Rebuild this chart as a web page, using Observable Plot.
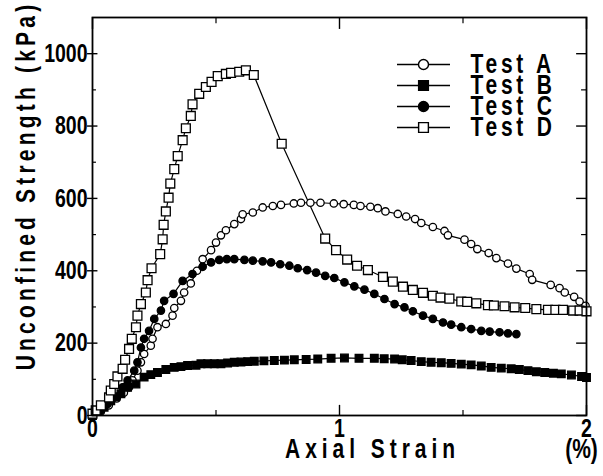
<!DOCTYPE html>
<html>
<head>
<meta charset="utf-8">
<script src="https://cdn.jsdelivr.net/npm/d3@7"></script>
<script src="https://cdn.jsdelivr.net/npm/@observablehq/plot@0.6"></script>
<style>
  body { margin: 0; background: #fff; }
  #wrap { position: relative; width: 603px; height: 476px; overflow: hidden; background: #fff; }
  #legend { position: absolute; left: 390px; top: 35px; }
</style>
</head>
<body>
<div id="wrap"><div id="chart"></div><div id="legend"></div></div>
<script>
// ---------- data ----------
const tests = ["Test A", "Test B", "Test C", "Test D"];
const xTitle = "Axial Strain";
const xUnit = "(%)";
const yTitle = "Unconfined Strength (kPa)";

const strainTicks = [0, 1, 2];
const strainMinor = [0.5, 1.5];
const strengthTicks = [0, 200, 400, 600, 800, 1000];
const strengthMinor = [100, 300, 500, 700, 900];

const strainA = [0,0.034,0.066,0.098,0.127,0.148,0.162,0.182,0.196,0.209,0.236,0.243,0.263,0.297,0.324,0.331,0.358,0.371,0.398,0.423,0.446,0.480,0.500,0.520,0.540,0.574,0.601,0.608,0.649,0.689,0.730,0.763,0.815,0.844,0.882,0.923,0.977,1.017,1.058,1.085,1.125,1.155,1.186,1.236,1.270,1.306,1.331,1.378,1.425,1.439,1.506,1.533,1.558,1.604,1.635,1.682,1.716,1.770,1.780,1.855,1.891,1.912,1.950,1.972,1.996];
const strengthA = [0,11,28,47,63,78,97,124,147,170,193,212,244,253,276,297,317,340,365,400,432,457,478,498,512,529,543,556,561,575,579,582,586,588,588,588,586,584,582,579,577,573,564,557,550,543,532,521,510,498,486,474,460,449,435,420,406,391,375,361,352,340,328,315,303];

const strainB = [0,0.021,0.047,0.074,0.094,0.115,0.142,0.176,0.209,0.236,0.263,0.297,0.331,0.358,0.385,0.419,0.439,0.466,0.493,0.520,0.547,0.574,0.601,0.628,0.655,0.694,0.736,0.777,0.817,0.865,0.912,0.966,1.020,1.079,1.141,1.181,1.223,1.254,1.290,1.331,1.371,1.412,1.452,1.493,1.533,1.574,1.614,1.655,1.695,1.728,1.763,1.797,1.831,1.866,1.898,1.939,1.980,2.0];
const strengthB = [0,11,23,41,52,60,78,87,106,113,119,127,133,135,138,139,143,143,143,143,145,147,148,149,150,151,152,153,154,155,156,158,159,158,158,157,156,154,152,149,147,146,144,142,140,137,133,131,129,127,124,121,119,117,115,112,108,105];

const strainC = [0,0.034,0.061,0.088,0.122,0.142,0.169,0.182,0.196,0.209,0.229,0.250,0.277,0.290,0.328,0.365,0.405,0.446,0.480,0.513,0.544,0.574,0.615,0.649,0.689,0.723,0.760,0.797,0.831,0.869,0.905,0.942,0.979,1.020,1.060,1.101,1.141,1.182,1.223,1.263,1.297,1.338,1.378,1.419,1.452,1.493,1.533,1.574,1.608,1.648,1.682,1.716];
const strengthC = [0,14,32,50,78,97,124,147,188,212,234,267,290,317,336,372,391,411,423,430,432,432,430,428,426,423,418,414,407,402,395,386,380,368,357,348,336,322,308,299,288,276,267,257,251,244,239,234,232,230,227,225];

const strainD = [0,0.013,0.034,0.067,0.074,0.088,0.101,0.122,0.132,0.148,0.159,0.176,0.182,0.196,0.216,0.223,0.239,0.274,0.284,0.288,0.297,0.308,0.315,0.331,0.345,0.365,0.378,0.398,0.405,0.432,0.459,0.482,0.507,0.540,0.561,0.594,0.621,0.653,0.766,0.942,0.986,1.031,1.071,1.115,1.176,1.216,1.257,1.297,1.338,1.378,1.409,1.445,1.493,1.517,1.554,1.601,1.625,1.668,1.709,1.752,1.797,1.844,1.874,1.905,1.946,1.972,2.0];
const strengthD = [5,14,28,50,69,87,108,129,154,184,212,244,276,308,340,374,407,446,487,527,564,602,641,681,717,761,794,828,860,889,908,922,938,944,947,950,954,941,751,489,457,431,414,402,383,370,356,347,339,331,326,323,315,314,310,305,304,302,299,297,294,292,292,292,290,290,288];

// ---------- styles ----------
const testSymbols = ["circle", "square", "circle", "square"];
const testFills = ["white", "black", "black", "white"];
const testR = [3.7, 4.3, 3.7, 5];
const legendR = [5, 5.5, 5, 5.5];
const FONT = '"Liberation Sans", Arial, sans-serif';
const CONDENSE = 0.75; // horizontal squeeze to imitate the narrow gothic face

// ---------- build rows ----------
const series = [[strainA, strengthA], [strainB, strengthB], [strainC, strengthC], [strainD, strengthD]];
const rows = [];
series.forEach(([xs, ys], i) => {
  const n = Math.min(xs.length, ys.length);
  for (let j = 0; j < n; j++) rows.push({test: tests[i], strain: xs[j], strength: ys[j]});
});

const X0 = 0, X1 = 2, Y0 = 0, Y1 = 1100;
// tick lengths, in data units
const inX = 0.04, inXmin = 0.02, outX = 0.02, inXleft = 0.022, inXleftMin = 0.016;
const inY = 28, inYmin = 14, inYtop = 33, inYtopMin = 17;

const txt = {fontFamily: FONT, fontWeight: "bold", fill: "black"};

const marks = [
  Plot.line(rows, {x: "strain", y: "strength", z: "test", stroke: "black", strokeWidth: 1.2}),
  ...tests.map((t, i) => Plot.dot(rows.filter(d => d.test === t), {
    x: "strain", y: "strength", symbol: testSymbols[i], r: testR[i],
    fill: testFills[i], stroke: "black", strokeWidth: 1.3
  })),
  // ticks
  Plot.ruleY(strengthTicks, {y: d => d, x1: X0 - outX, x2: X0 + inXleft, stroke: "black", strokeWidth: 1.4}),
  Plot.ruleY(strengthMinor, {y: d => d, x1: X0, x2: X0 + inXleftMin, stroke: "black", strokeWidth: 1.2}),
  Plot.ruleY(strengthTicks, {y: d => d, x1: X1 - inX, x2: X1, stroke: "black", strokeWidth: 1.4}),
  Plot.ruleY(strengthMinor, {y: d => d, x1: X1 - inXmin, x2: X1, stroke: "black", strokeWidth: 1.2}),
  Plot.ruleX(strainTicks, {x: d => d, y1: Y0, y2: Y0 + inY, stroke: "black", strokeWidth: 1.4}),
  Plot.ruleX(strainMinor, {x: d => d, y1: Y0, y2: Y0 + inYmin, stroke: "black", strokeWidth: 1.2}),
  Plot.ruleX(strainTicks, {x: d => d, y1: Y1 - inYtop, y2: Y1, stroke: "black", strokeWidth: 1.4}),
  Plot.ruleX(strainMinor, {x: d => d, y1: Y1 - inYtopMin, y2: Y1, stroke: "black", strokeWidth: 1.2}),
  Plot.frame({stroke: "black", strokeWidth: 1.8}),
  Plot.axisY({ticks: strengthTicks, tickSize: 0, tickPadding: 5, label: null, fontSize: 26,
    tickFormat: d3.format("d"), ...txt}),
  Plot.axisX({ticks: strainTicks, tickSize: 0, tickPadding: 3, label: null, fontSize: 26,
    tickFormat: d3.format("d"), ...txt}),
  Plot.text([yTitle], {frameAnchor: "left", rotate: -90, dx: -66, dy: -31,
    textAnchor: "middle", lineAnchor: "middle", fontSize: 28, ...txt}),
  Plot.text([xTitle], {frameAnchor: "bottom", dx: 33, dy: 34,
    textAnchor: "middle", lineAnchor: "middle", fontSize: 28, ...txt}),
  Plot.text([xUnit], {frameAnchor: "bottom-right", dx: -5, dy: 34,
    textAnchor: "middle", lineAnchor: "middle", fontSize: 28, ...txt})
];

const chart = Plot.plot({
  width: 603, height: 476,
  marginTop: 17, marginLeft: 92, marginRight: 17, marginBottom: 61,
  x: {domain: [X0, X1], label: null},
  y: {domain: [Y0, Y1], label: null},
  style: {fontFamily: FONT, fontSize: "26px", fontWeight: "bold", background: "white", color: "black", overflow: "visible"},
  marks
});
document.getElementById("chart").appendChild(chart);

// ---------- legend ----------
const legend = Plot.plot({
  width: 180, height: 120, margin: 0,
  x: {domain: [0, 180], range: [0, 180], axis: null},
  y: {type: "point", domain: tests, range: [18, 102], axis: null},
  style: {fontFamily: FONT, background: "transparent", color: "black", overflow: "visible"},
  marks: [
    Plot.ruleY(tests, {y: d => d, x1: 7, x2: 60, stroke: "black", strokeWidth: 1.3}),
    ...tests.map((t, i) => Plot.dot([t], {y: d => d, x: 33, symbol: testSymbols[i], fill: testFills[i],
      stroke: "black", strokeWidth: 1.4, r: legendR[i]})),
    Plot.text(tests, {y: d => d, x: 80, textAnchor: "start", lineAnchor: "middle",
      fontSize: 28, ...txt})
  ]
});
document.getElementById("legend").appendChild(legend);

// letter spacing (before squeeze) for the spaced-out titles and legend
const spacing = new Map([[yTitle, 5.6], [xTitle, 6.6], ...tests.map(t => [t, 5])]);

// squeeze every text horizontally around its anchor (narrow bold face look)
function condense(svg, k) {
  svg.querySelectorAll("text").forEach(t => {
    const ls = spacing.get(t.textContent);
    if (ls) t.style.letterSpacing = ls + "px";
    let tr = t.getAttribute("transform") || "";
    const x = +t.getAttribute("x") || 0, y = +t.getAttribute("y") || 0;
    if (x || y) {
      t.removeAttribute("x"); t.removeAttribute("y");
      tr += ` translate(${x},${y})`;
    }
    t.setAttribute("transform", `${tr} scale(${k},1)`);
  });
}
condense(chart, CONDENSE);
condense(legend, CONDENSE);
</script>
</body>
</html>
